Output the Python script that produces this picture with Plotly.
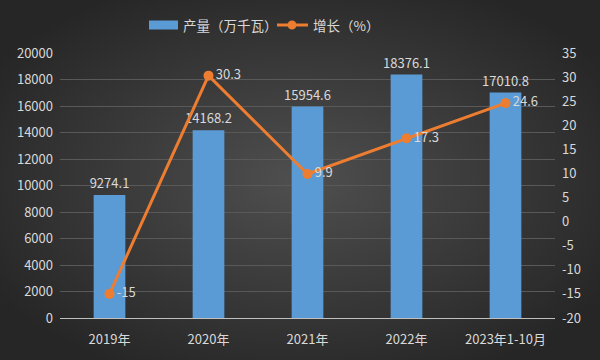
import plotly.graph_objects as go
import base64

categories = ["2019年", "2020年", "2021年", "2022年", "2023年1-10月"]
output_vals = [9274.1, 14168.2, 15954.6, 18376.1, 17010.8]
growth_vals = [-15, 30.3, 9.9, 17.3, 24.6]
output_labels = ["9274.1", "14168.2", "15954.6", "18376.1", "17010.8"]
growth_labels = ["-15", "30.3", "9.9", "17.3", "24.6"]
left_ticks = [0, 2000, 4000, 6000, 8000, 10000, 12000, 14000, 16000, 18000, 20000]
right_ticks = [-20, -15, -10, -5, 0, 5, 10, 15, 20, 25, 30, 35]
legend_names = ["产量（万千瓦）", "增长（%）"]

FONT = "Noto Sans CJK SC"
TXT = "#d9d9d9"
BLUE = "#5b9bd5"
ORANGE = "#ed7d31"

W, H = 600, 360
L, R, T, B = 60, 45, 53, 42
pw, ph = W - L - R, H - T - B


def px(x):
    return (x - L) / pw


def py(y):
    return (H - B - y) / ph


svg = ('<svg xmlns="http://www.w3.org/2000/svg" width="600" height="360" preserveAspectRatio="none">'
       '<defs><radialGradient id="g" cx="50%" cy="50%" r="60%">'
       '<stop offset="0%" stop-color="#4f4f4f"/><stop offset="100%" stop-color="#262626"/>'
       '</radialGradient></defs><rect width="600" height="360" fill="url(#g)"/></svg>')
bg_uri = "data:image/svg+xml;base64," + base64.b64encode(svg.encode()).decode()

fig = go.Figure()
fig.add_trace(go.Bar(
    x=categories, y=output_vals, name=legend_names[0],
    marker=dict(color=BLUE, line=dict(width=0)),
    width=0.32,
    text=output_labels, textposition="outside", constraintext="none",
    textfont=dict(color=TXT, size=13, family=FONT),
    cliponaxis=False, showlegend=False,
))
fig.add_trace(go.Scatter(
    x=categories, y=growth_vals, name=legend_names[1], yaxis="y2",
    mode="lines+markers+text",
    line=dict(color=ORANGE, width=3),
    marker=dict(color=ORANGE, size=10),
    text=growth_labels, textposition="middle right",
    textfont=dict(color=TXT, size=13, family=FONT),
    cliponaxis=False, showlegend=False,
))

# manual legend (wide swatch like the reference)
ly = 25
shapes = [
    dict(type="rect", xref="paper", yref="paper", x0=px(149), x1=px(178),
         y0=py(ly + 4.5), y1=py(ly - 4.5), fillcolor=BLUE, line=dict(width=0)),
    dict(type="line", xref="paper", yref="paper", x0=px(277), x1=px(308),
         y0=py(ly), y1=py(ly), line=dict(color=ORANGE, width=3)),
    dict(type="circle", xref="paper", yref="paper", x0=px(287.5), x1=px(296.5),
         y0=py(ly + 4.5), y1=py(ly - 4.5), fillcolor=ORANGE, line=dict(width=0)),
]
annotations = [
    dict(text=legend_names[0], xref="paper", yref="paper", x=px(181), y=py(ly),
         xanchor="left", yanchor="middle", showarrow=False,
         font=dict(size=13.5, color=TXT, family=FONT)),
    dict(text=legend_names[1], xref="paper", yref="paper", x=px(311), y=py(ly),
         xanchor="left", yanchor="middle", showarrow=False,
         font=dict(size=13.5, color=TXT, family=FONT)),
]

fig.update_layout(
    width=W, height=H,
    margin=dict(l=L, r=R, t=T, b=B, autoexpand=False),
    paper_bgcolor="#3a3a3a",
    plot_bgcolor="rgba(0,0,0,0)",
    font=dict(family=FONT, color=TXT, size=12),
    images=[dict(source=bg_uri, xref="paper", yref="paper",
                 x=-L / pw, y=1 + T / ph, sizex=W / pw, sizey=H / ph,
                 xanchor="left", yanchor="top", sizing="stretch", layer="below")],
    shapes=shapes,
    annotations=annotations,
    showlegend=False,
    xaxis=dict(showgrid=False, showline=True, linecolor="#bfbfbf", linewidth=1,
               ticks="", tickfont=dict(size=13, color=TXT), ticklabelstandoff=9),
    yaxis=dict(range=[0, 20000], tickvals=left_ticks, ticktext=[str(v) for v in left_ticks],
               showgrid=True, gridcolor="#595959",
               gridwidth=1, zeroline=False, tickfont=dict(size=13, color=TXT),
               ticklabelstandoff=6),
    yaxis2=dict(range=[-20, 35], tickvals=right_ticks, ticktext=[str(v) for v in right_ticks],
                overlaying="y", side="right",
                showgrid=False, zeroline=False, tickfont=dict(size=13, color=TXT),
                ticklabelstandoff=6),
)

fig.write_html("out.html", config={"displayModeBar": False},
               post_script="document.body.style.margin='0';document.body.style.background='#2a2a2a';")
